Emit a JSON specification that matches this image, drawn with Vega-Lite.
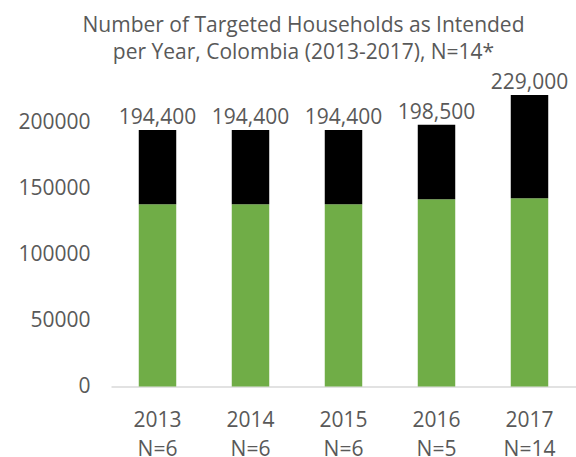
{
  "$schema": "https://vega.github.io/schema/vega-lite/v6.json",
  "autosize": {"type": "none"},
  "width": 465,
  "height": 329.75,
  "padding": {"left": 111, "top": 56.75, "right": 0, "bottom": 70.5},
  "background": "white",
  "config": {
    "view": {"stroke": null},
    "font": "Open Sans"
  },
  "title": {
    "text": ["Number of Targeted Households as Intended", "per Year, Colombia (2013-2017), N=14*"],
    "fontSize": 21,
    "fontWeight": "normal",
    "font": "Open Sans",
    "color": "#595959",
    "lineHeight": 27,
    "anchor": "middle",
    "dx": -40,
    "offset": -6
  },
  "data": {
    "values": [
      {"category": "2013|N=6", "segment": "Part 1", "value": 138100, "label": 194400},
      {"category": "2013|N=6", "segment": "Part 2", "value": 56300, "label": 194400},
      {"category": "2014|N=6", "segment": "Part 1", "value": 138100, "label": 194400},
      {"category": "2014|N=6", "segment": "Part 2", "value": 56300, "label": 194400},
      {"category": "2015|N=6", "segment": "Part 1", "value": 138100, "label": 194400},
      {"category": "2015|N=6", "segment": "Part 2", "value": 56300, "label": 194400},
      {"category": "2016|N=5", "segment": "Part 1", "value": 141900, "label": 198500},
      {"category": "2016|N=5", "segment": "Part 2", "value": 56600, "label": 198500},
      {"category": "2017|N=14", "segment": "Part 1", "value": 142700, "label": 229000},
      {"category": "2017|N=14", "segment": "Part 2", "value": 78300, "label": 229000}
    ]
  },
  "encoding": {
    "x": {
      "field": "category",
      "type": "nominal",
      "sort": null,
      "scale": {"paddingInner": 0.597, "paddingOuter": 0.2985},
      "axis": {
        "title": null,
        "labelAngle": 0,
        "labelExpr": "split(datum.value, '|')",
        "labelFontSize": 21,
        "labelFont": "Open Sans",
        "labelColor": "#595959",
        "labelLineHeight": 29,
        "labelPadding": 23,
        "ticks": false,
        "domainColor": "#d9d9d9",
        "domainWidth": 1.5
      }
    }
  },
  "layer": [
    {
      "mark": {"type": "bar"},
      "encoding": {
        "y": {
          "field": "value",
          "type": "quantitative",
          "stack": "zero",
          "scale": {"domain": [0, 250000], "nice": false},
          "axis": {
            "title": null,
            "values": [0, 50000, 100000, 150000, 200000],
            "format": "d",
            "grid": false,
            "domain": false,
            "ticks": false,
            "labelFontSize": 21,
            "labelFont": "Open Sans",
            "labelColor": "#595959",
            "labelPadding": 21
          }
        },
        "color": {
          "field": "segment",
          "type": "nominal",
          "scale": {"domain": ["Part 1", "Part 2"], "range": ["#70AD47", "#000000"]},
          "legend": null
        },
        "order": {"field": "segment", "sort": "ascending"}
      }
    },
    {
      "transform": [
        {"aggregate": [
          {"op": "sum", "field": "value", "as": "top"},
          {"op": "max", "field": "label", "as": "label"}
        ], "groupby": ["category"]}
      ],
      "mark": {"type": "text", "baseline": "alphabetic", "dy": -6, "fontSize": 21, "font": "Open Sans", "color": "#595959"},
      "encoding": {
        "y": {"field": "top", "type": "quantitative"},
        "text": {"field": "label", "type": "quantitative", "format": ","}
      }
    }
  ]
}
